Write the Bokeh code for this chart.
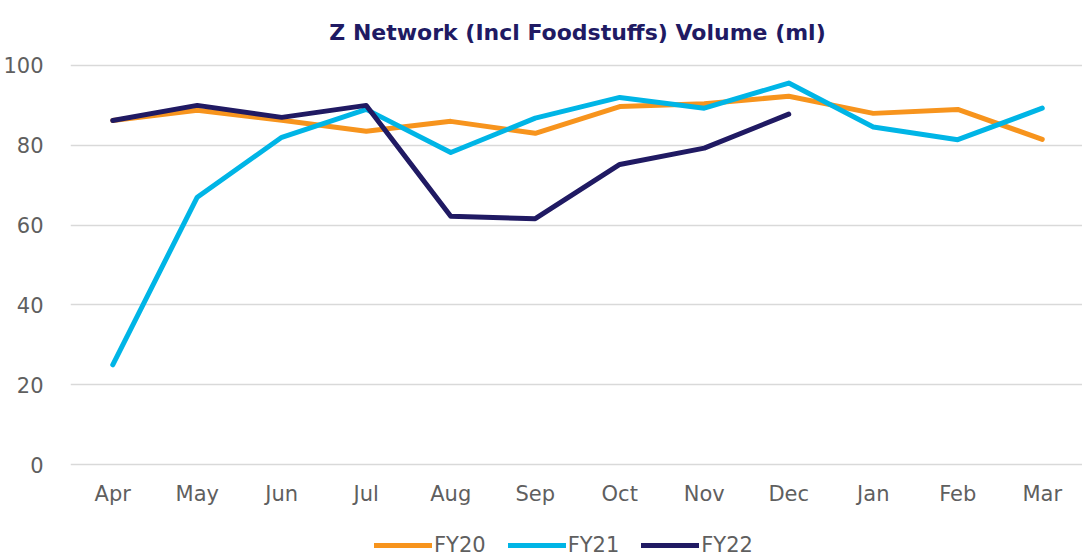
from bokeh.plotting import figure
from bokeh.models import FactorRange, Range1d, Legend, LegendItem, FixedTicker, ColumnDataSource
from bokeh.core.properties import value
from bokeh.embed import file_html
from bokeh.resources import INLINE

months = ["Apr", "May", "Jun", "Jul", "Aug", "Sep", "Oct", "Nov", "Dec", "Jan", "Feb", "Mar"]
fy20 = [86.2, 88.8, 86.3, 83.5, 86.0, 83.0, 89.7, 90.4, 92.3, 88.0, 89.0, 81.5]
fy21 = [25.0, 67.0, 82.0, 89.0, 78.2, 86.8, 92.0, 89.3, 95.6, 84.6, 81.4, 89.3]
fy22 = [86.2, 90.0, 87.0, 90.0, 62.2, 61.6, 75.2, 79.3, 87.8]
y_ticks = [0, 20, 40, 60, 80, 100]

C20 = "#F7941D"
C21 = "#00B5E6"
C22 = "#201A63"
GRAY = "#5F5F5F"
FONT = "DejaVu Sans"

p = figure(frame_width=1014, frame_height=496, x_range=FactorRange(*months, range_padding=0),
           y_range=Range1d(-23.3, 101), output_backend="svg", toolbar_location=None,
           title="Z Network (Incl Foodstuffs) Volume (ml)",
           min_border_left=68, min_border_right=0, min_border_top=61, min_border_bottom=0)
p.outline_line_color = None
p.background_fill_color = "white"
p.border_fill_color = "white"

p.title.align = "center"
p.title.text_font = FONT
p.title.text_font_style = "bold"
p.title.text_font_size = "22px"
p.title.text_color = C22
p.title.standoff = 34

p.xgrid.grid_line_color = None
p.ygrid.grid_line_color = "#D9D9D9"
p.ygrid.grid_line_width = 1.5
p.yaxis.ticker = FixedTicker(ticks=y_ticks)
p.xaxis.visible = False

ax = p.yaxis[0]
ax.axis_line_color = None
ax.major_tick_line_color = None
ax.minor_tick_line_color = None
ax.major_label_text_font = FONT
ax.major_label_text_font_size = "21px"
ax.major_label_text_color = GRAY
ax.major_label_standoff = 21

# category labels drawn under the 0 line, through the categorical x scale
lab_src = ColumnDataSource(dict(x=months, y=[-7.5] * len(months), t=months))
p.text(x="x", y="y", text="t", source=lab_src, text_align="center", text_baseline="middle",
       text_font=value(FONT), text_font_size="21px", text_color=GRAY)

r20 = p.line(months, fy20, line_color=C20, line_width=5, line_cap="round", line_join="round")
r21 = p.line(months, fy21, line_color=C21, line_width=5, line_cap="round", line_join="round")
r22 = p.line(months[:len(fy22)], fy22, line_color=C22, line_width=5, line_cap="round", line_join="round")

legend = Legend(items=[LegendItem(label="FY20", renderers=[r20]),
                       LegendItem(label="FY21", renderers=[r21]),
                       LegendItem(label="FY22", renderers=[r22])],
                orientation="horizontal", location=(304, 0),
                glyph_width=58, glyph_height=20, label_standoff=2, spacing=22,
                label_text_font=FONT, label_text_font_size="21px", label_text_color=GRAY,
                border_line_color=None, background_fill_alpha=0, padding=0, margin=0)
p.add_layout(legend, "center")

open("out.html", "w").write(file_html(p, INLINE))
